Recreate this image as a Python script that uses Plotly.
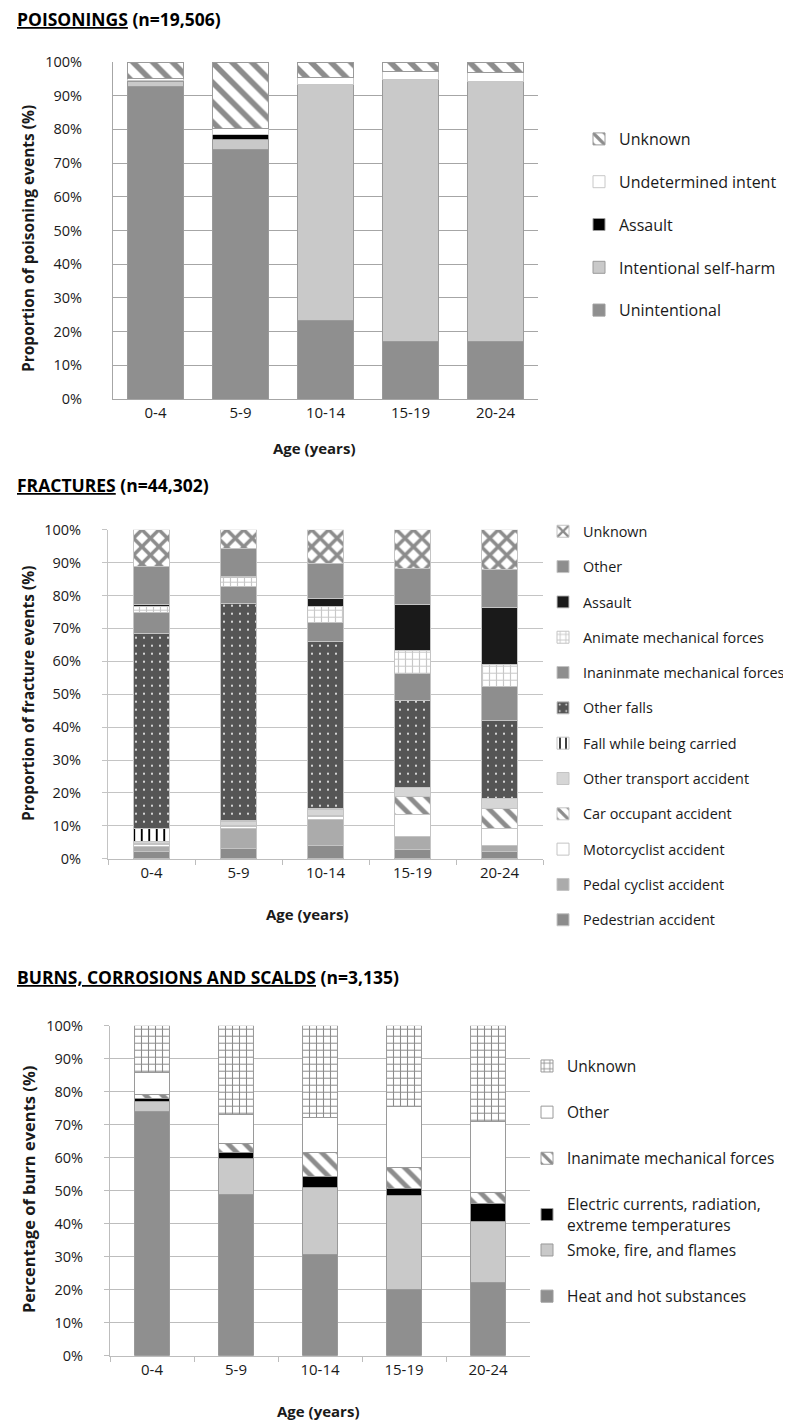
import plotly.graph_objects as go

ages = ["0-4", "5-9", "10-14", "15-19", "20-24"]

# ---------------- Poisonings (%)
poison_unintentional = [92.6, 74.0, 23.4, 17.1, 17.1]
poison_selfharm = [1.7, 3.0, 69.9, 77.6, 77.1]
poison_assault = [0.1, 1.4, 0.1, 0.1, 0.1]
poison_undetermined = [0.8, 1.8, 2.0, 2.5, 2.5]
poison_unknown = [4.8, 19.8, 4.6, 2.7, 3.2]

# ---------------- Fractures (%)
frac_pedestrian = [2.3, 3.2, 4.0, 2.9, 2.2]
frac_pedal = [1.4, 6.1, 7.9, 3.9, 1.7]
frac_motorcyclist = [0.5, 0.5, 1.0, 6.6, 5.2]
frac_car = [0.3, 0.3, 0.3, 5.4, 6.1]
frac_other_transport = [0.7, 1.2, 1.7, 2.7, 3.0]
frac_fall_carried = [4.1, 0.3, 0.5, 0.1, 0.1]
frac_other_falls = [59.0, 66.1, 50.7, 26.4, 23.7]
frac_inanimate = [6.4, 5.1, 5.6, 8.4, 10.4]
frac_animate = [2.0, 2.7, 5.0, 6.9, 6.6]
frac_assault = [0.6, 0.2, 2.5, 13.9, 17.4]
frac_other = [11.5, 8.6, 10.6, 10.9, 11.4]
frac_unknown = [11.2, 5.7, 10.2, 11.9, 12.2]

# ---------------- Burns (%)
burn_heat = [73.9, 48.7, 30.6, 20.1, 22.2]
burn_smoke = [3.2, 11.2, 20.5, 28.3, 18.4]
burn_electric = [0.7, 1.6, 3.2, 2.4, 5.4]
burn_inanimate = [1.4, 2.8, 7.2, 6.1, 3.4]
burn_other = [6.5, 8.9, 10.8, 18.5, 21.6]
burn_unknown = [14.3, 26.8, 27.7, 24.6, 29.0]

FONT = "Open Sans"
TXT = "#1a1a1a"
W, H = 791, 1428

fig = go.Figure()
_rank = [1000]


def add(name, vals, xa, ya, legend, width, color, line_color, pattern=None, group=None):
    marker = dict(color=color, line=dict(color=line_color, width=1))
    if pattern is not None:
        marker["pattern"] = pattern
    _rank[0] -= 1
    fig.add_trace(go.Bar(
        name=name, x=ages, y=vals, xaxis=xa, yaxis=ya, legend=legend,
        legendgroup=group or name, legendrank=_rank[0], width=width, marker=marker,
        hoverinfo="skip",
    ))


# Poisonings
PW = 0.65
PL = "#9a9a9a"
add("Unintentional", poison_unintentional, "x", "y", "legend", PW, "#8f8f8f", PL, group="p1")
add("Intentional self-harm", poison_selfharm, "x", "y", "legend", PW, "#c9c9c9", PL, group="p2")
add("Assault", poison_assault, "x", "y", "legend", PW, "#000000", PL, group="p3")
add("Undetermined intent", poison_undetermined, "x", "y", "legend", PW, "#ffffff", "#c8c8c8", group="p4")
add("Unknown", poison_unknown, "x", "y", "legend", PW, "#ffffff", PL,
    pattern=dict(shape="\\", fgcolor="#8c8c8c", bgcolor="#ffffff", size=14, solidity=0.4, fillmode="replace"),
    group="p5")

# Fractures
FW = 0.425
FL = "#c4c4c4"
add("Pedestrian accident", frac_pedestrian, "x2", "y2", "legend2", FW, "#8c8c8c", FL, group="f1")
add("Pedal cyclist accident", frac_pedal, "x2", "y2", "legend2", FW, "#ababab", FL, group="f2")
add("Motorcyclist accident", frac_motorcyclist, "x2", "y2", "legend2", FW, "#ffffff", FL, group="f3")
add("Car occupant accident", frac_car, "x2", "y2", "legend2", FW, "#ffffff", FL,
    pattern=dict(shape="\\", fgcolor="#8c8c8c", bgcolor="#ffffff", size=12, solidity=0.4, fillmode="replace"),
    group="f4")
add("Other transport accident", frac_other_transport, "x2", "y2", "legend2", FW, "#d6d6d6", FL, group="f5")
add("Fall while being carried", frac_fall_carried, "x2", "y2", "legend2", FW, "#ffffff", FL,
    pattern=dict(shape="|", fgcolor="#000000", bgcolor="#ffffff", size=7.5, solidity=0.25, fillmode="replace"),
    group="f6")
add("Other falls", frac_other_falls, "x2", "y2", "legend2", FW, "#555555", FL,
    pattern=dict(shape=".", fgcolor="#ffffff", bgcolor="#555555", size=8, solidity=0.05, fillmode="replace"),
    group="f7")
add("Inaninmate mechanical forces", frac_inanimate, "x2", "y2", "legend2", FW, "#8e8e8e", FL, group="f8")
add("Animate mechanical forces", frac_animate, "x2", "y2", "legend2", FW, "#ffffff", FL,
    pattern=dict(shape="+", fgcolor="#c8c8c8", bgcolor="#ffffff", size=7, solidity=0.3, fillmode="replace"),
    group="f9")
add("Assault", frac_assault, "x2", "y2", "legend2", FW, "#1a1a1a", FL, group="f10")
add("Other", frac_other, "x2", "y2", "legend2", FW, "#8e8e8e", FL, group="f11")
add("Unknown", frac_unknown, "x2", "y2", "legend2", FW, "#ffffff", FL,
    pattern=dict(shape="x", fgcolor="#8c8c8c", bgcolor="#ffffff", size=12, solidity=0.5, fillmode="replace"),
    group="f12")

# Burns
BW = 0.405
BL = "#9a9a9a"
add("Heat and hot substances", burn_heat, "x3", "y3", "legend4", BW, "#8f8f8f", BL, group="b1")
add("Smoke, fire, and flames", burn_smoke, "x3", "y3", "legend4", BW, "#c9c9c9", BL, group="b2")
add("Electric currents, radiation,<br>extreme temperatures", burn_electric, "x3", "y3", "legend3", BW,
    "#000000", BL, group="b3")
add("Inanimate mechanical forces", burn_inanimate, "x3", "y3", "legend3", BW, "#ffffff", BL,
    pattern=dict(shape="\\", fgcolor="#8c8c8c", bgcolor="#ffffff", size=12, solidity=0.4, fillmode="replace"),
    group="b4")
add("Other", burn_other, "x3", "y3", "legend3", BW, "#ffffff", BL, group="b5")
add("Unknown", burn_unknown, "x3", "y3", "legend3", BW, "#ffffff", BL,
    pattern=dict(shape="+", fgcolor="#8c8c8c", bgcolor="#ffffff", size=7, solidity=0.28, fillmode="replace"),
    group="b6")


def px_x(p):
    return p / W


def px_y(p):
    return 1 - p / H


def xaxis(dom, ticks, grid_color):
    d = dict(domain=[px_x(dom[0]), px_x(dom[1])], type="category",
             showline=True, linecolor=grid_color, linewidth=1,
             tickfont=dict(family=FONT, size=15, color=TXT), ticklabelstandoff=0,
             automargin=False, showgrid=False, fixedrange=True)
    if ticks:
        d.update(ticks="outside", tickson="boundaries", ticklen=5, tickcolor=grid_color)
    return d


def yaxis(dom, grid_color, ticks, standoff):
    d = dict(domain=[px_y(dom[1]), px_y(dom[0])], range=[0, 100], dtick=10, ticksuffix="%",
             showgrid=True, gridcolor=grid_color, gridwidth=1, showline=True, linecolor=grid_color,
             linewidth=1, zeroline=False, tickfont=dict(family=FONT, size=14.5, color=TXT),
             ticklabelstandoff=standoff, automargin=False, fixedrange=True)
    if ticks:
        d.update(ticks="outside", ticklen=5, tickcolor=grid_color)
    return d


xa1 = xaxis((105, 530), False, "#a6a6a6"); xa1["anchor"] = "y"
xa2 = xaxis((100, 535), True, "#bdbdbd"); xa2["anchor"] = "y2"
xa3 = xaxis((102, 522), True, "#bdbdbd"); xa3["anchor"] = "y3"
ya1 = yaxis((54, 391), "#a6a6a6", False, 27); ya1["anchor"] = "x"
ya2 = yaxis((521.7, 850.7), "#c4c4c4", True, 18); ya2["anchor"] = "x2"
ya3 = yaxis((1017.7, 1347.7), "#bdbdbd", True, 18); ya3["anchor"] = "x3"


def legend(x_text, top, size, gap):
    return dict(x=px_x(x_text - 48), y=px_y(top), xanchor="left", yanchor="top",
                font=dict(family=FONT, size=size, color=TXT), traceorder="grouped",
                tracegroupgap=gap, bgcolor="rgba(0,0,0,0)", borderwidth=0, itemclick=False,
                itemdoubleclick=False)


annotations = []


def title(text, y):
    annotations.append(dict(text=text, x=px_x(7), y=px_y(y), xref="paper", yref="paper",
                            xanchor="left", yanchor="middle", showarrow=False,
                            font=dict(family=FONT, size=17.5, color="#000000")))


title("<b><u>POISONINGS</u> (n=19,506)</b>", 11)
title("<b><u>FRACTURES</u> (n=44,302)</b>", 477)
title("<b><u>BURNS, CORROSIONS AND SCALDS</u> (n=3,135)</b>", 969)


def ytitle(text, yc, size):
    annotations.append(dict(text="<b>" + text + "</b>", x=px_x(20), y=px_y(yc), xref="paper", yref="paper",
                            xanchor="center", yanchor="middle", textangle=-90, showarrow=False,
                            font=dict(family=FONT, size=size, color=TXT)))


def xtitle(xc, yc):
    annotations.append(dict(text="<b>Age (years)</b>", x=px_x(xc), y=px_y(yc), xref="paper", yref="paper",
                            xanchor="center", yanchor="middle", showarrow=False,
                            font=dict(family=FONT, size=15, color=TXT)))


ytitle("Proportion of poisoning events (%)", 231, 15.5)
ytitle("Proportion of fracture events (%)", 686, 15.5)
ytitle("Percentage of burn events (%)", 1182, 16.5)
xtitle(306, 440)
xtitle(299, 906)
xtitle(310, 1403)

fig.update_layout(
    width=W, height=H, margin=dict(l=0, r=0, t=0, b=0),
    paper_bgcolor="#ffffff", plot_bgcolor="#ffffff",
    barmode="stack",
    xaxis=xa1, xaxis2=xa2, xaxis3=xa3,
    yaxis=ya1, yaxis2=ya2, yaxis3=ya3,
    legend=legend(619, 114, 16, 19),
    legend2=legend(583, 507.4, 14.4, 13.6),
    legend3=legend(567, 1041.4, 15.5, 23),
    legend4=legend(567, 1225.4, 15.5, 23),
    annotations=annotations,
    showlegend=True,
)

fig.write_html("out.html")
